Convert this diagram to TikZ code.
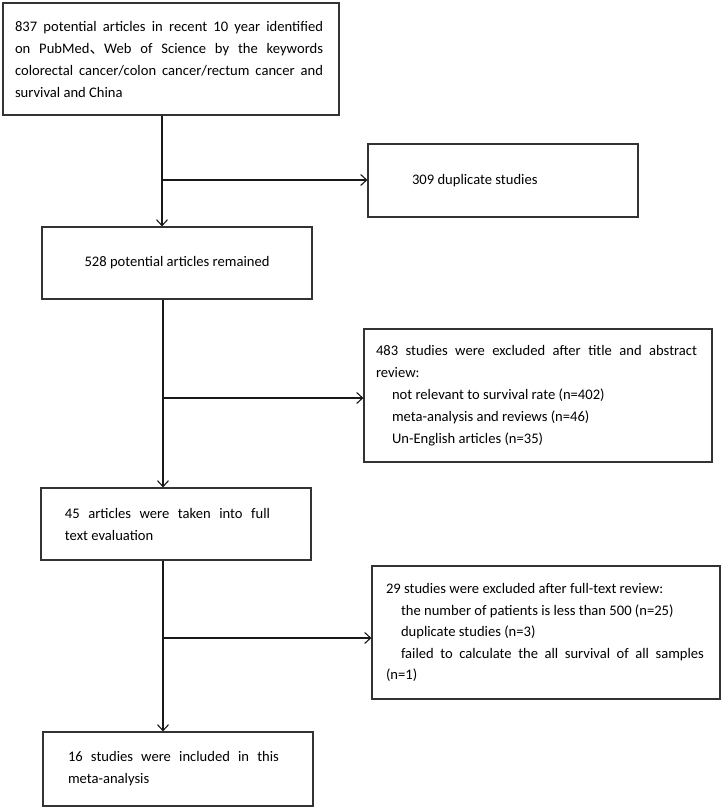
\documentclass[tikz,border=0pt]{standalone}
\usepackage{fontspec}
\setmainfont{Carlito}
\newfontfamily\cjk{Noto Sans CJK SC}
\usetikzlibrary{arrows.meta}
\hyphenpenalty=10000
\exhyphenpenalty=10000
\begin{document}
\begin{tikzpicture}[x=1pt,y=-1pt,
  box/.style={draw=black!80, line width=1.1pt, inner sep=0pt, font=\fontsize{14.6}{22}\selectfont},
  arr/.style={line width=1.1pt, draw=black!90, -{Straight Barb[length=6pt,width=11pt,line width=1.1pt]}}]
\useasboundingbox[fill=white] (0,0) rectangle (721,808);
\node[box, minimum height=112pt] (b1) at (171,59)
 {\hspace*{12pt}\parbox{308pt}{837 potential articles in recent 10 year identified\linebreak on PubMed\smash{\cjk 、}Web of Science by the keywords\linebreak colorectal cancer/colon cancer/rectum cancer and\linebreak survival and China}\hspace*{16pt}};
\node[box, minimum height=73pt] (b2) at (503,180.5)
 {\hspace*{44pt}\parbox{226pt}{309 duplicate studies}};
\node[box, minimum height=72pt] (b3) at (177,263)
 {\parbox{270pt}{\centering 528 potential articles remained}};
\node[box, minimum height=133pt] (b4) at (538,395.5)
 {\hspace*{12pt}\parbox{321pt}{483 studies were excluded after title and abstract\linebreak review:\par
 \hspace*{16pt}not relevant to survival rate (n=402)\par
 \hspace*{16pt}meta-analysis and reviews (n=46)\par
 \hspace*{16pt}Un-English articles (n=35)}\hspace*{15pt}};
\node[box, minimum height=72pt] (b5) at (176,524)
 {\hspace*{24pt}\parbox{205pt}{45 articles were taken into full\linebreak text evaluation}\hspace*{41pt}};
\node[box, minimum height=133pt, font=\fontsize{14.6}{21.5}\selectfont] (b6) at (546,632.5)
 {\hspace*{14pt}\parbox{318pt}{29 studies were excluded after full-text review:\par
 \hspace*{15pt}the number of patients is less than 500 (n=25)\par
 \hspace*{15pt}duplicate studies (n=3)\par
 \hspace*{15pt}failed to calculate the all survival of all samples\linebreak (n=1)}\hspace*{16pt}};
\node[box, minimum height=74pt] (b7) at (178,769)
 {\hspace*{25pt}\parbox{211pt}{16 studies were included in this\linebreak meta-analysis}\hspace*{34pt}};
\coordinate (j1) at (162,180);
\coordinate (j2) at (163,398);
\coordinate (j3) at (163,638);
\draw[arr] (b1.south -| j1) -- (b3.north -| j1);
\draw[arr] (j1) -- (b2.west |- j1);
\draw[arr] (b3.south -| j2) -- (b5.north -| j2);
\draw[arr] (j2) -- (b4.west |- j2);
\draw[arr] (b5.south -| j3) -- (b7.north -| j3);
\draw[arr] (j3) -- (b6.west |- j3);
\end{tikzpicture}
\end{document}
